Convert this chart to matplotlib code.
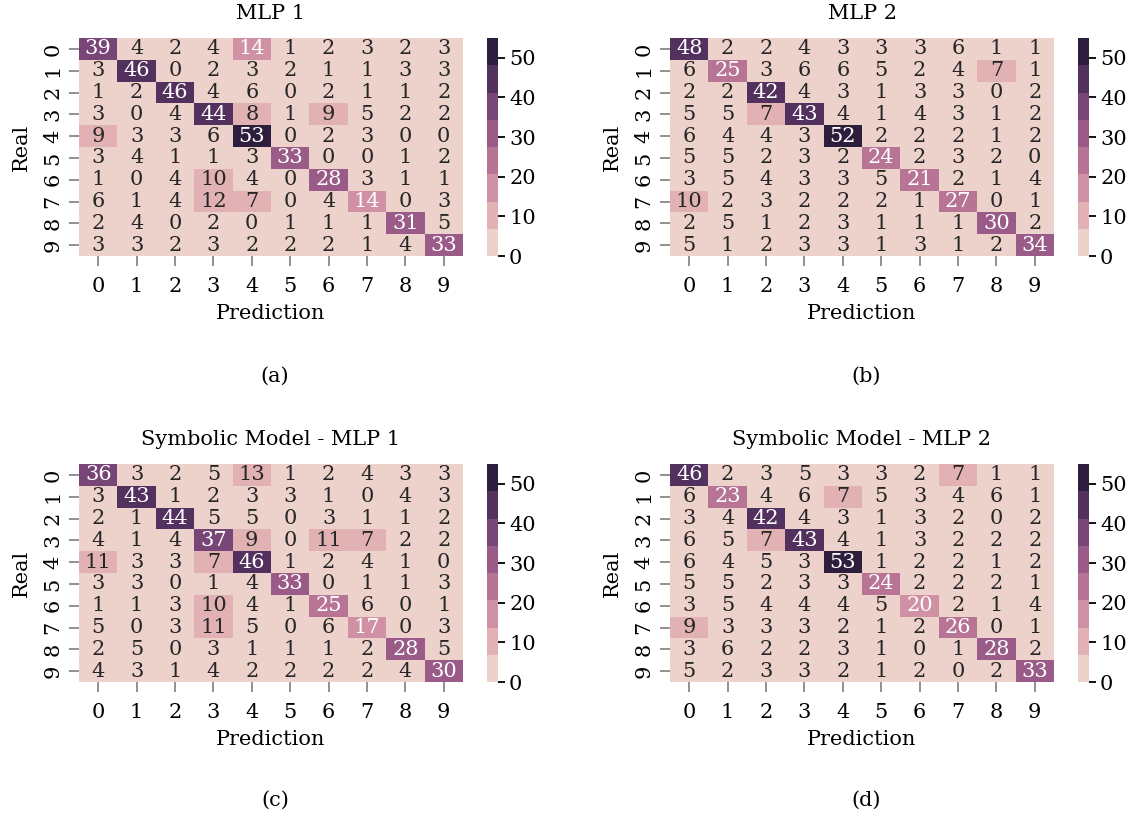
import numpy as np
import matplotlib
matplotlib.use("Agg")
import matplotlib.pyplot as plt
import seaborn as sns
from matplotlib.colors import ListedColormap

labels = [str(i) for i in range(10)]

mlp1 = [
    [39, 4, 2, 4, 14, 1, 2, 3, 2, 3],
    [3, 46, 0, 2, 3, 2, 1, 1, 3, 3],
    [1, 2, 46, 4, 6, 0, 2, 1, 1, 2],
    [3, 0, 4, 44, 8, 1, 9, 5, 2, 2],
    [9, 3, 3, 6, 53, 0, 2, 3, 0, 0],
    [3, 4, 1, 1, 3, 33, 0, 0, 1, 2],
    [1, 0, 4, 10, 4, 0, 28, 3, 1, 1],
    [6, 1, 4, 12, 7, 0, 4, 14, 0, 3],
    [2, 4, 0, 2, 0, 1, 1, 1, 31, 5],
    [3, 3, 2, 3, 2, 2, 2, 1, 4, 33],
]
mlp2 = [
    [48, 2, 2, 4, 3, 3, 3, 6, 1, 1],
    [6, 25, 3, 6, 6, 5, 2, 4, 7, 1],
    [2, 2, 42, 4, 3, 1, 3, 3, 0, 2],
    [5, 5, 7, 43, 4, 1, 4, 3, 1, 2],
    [6, 4, 4, 3, 52, 2, 2, 2, 1, 2],
    [5, 5, 2, 3, 2, 24, 2, 3, 2, 0],
    [3, 5, 4, 3, 3, 5, 21, 2, 1, 4],
    [10, 2, 3, 2, 2, 2, 1, 27, 0, 1],
    [2, 5, 1, 2, 3, 1, 1, 1, 30, 2],
    [5, 1, 2, 3, 3, 1, 3, 1, 2, 34],
]
sym_mlp1 = [
    [36, 3, 2, 5, 13, 1, 2, 4, 3, 3],
    [3, 43, 1, 2, 3, 3, 1, 0, 4, 3],
    [2, 1, 44, 5, 5, 0, 3, 1, 1, 2],
    [4, 1, 4, 37, 9, 0, 11, 7, 2, 2],
    [11, 3, 3, 7, 46, 1, 2, 4, 1, 0],
    [3, 3, 0, 1, 4, 33, 0, 1, 1, 3],
    [1, 1, 3, 10, 4, 1, 25, 6, 0, 1],
    [5, 0, 3, 11, 5, 0, 6, 17, 0, 3],
    [2, 5, 0, 3, 1, 1, 1, 2, 28, 5],
    [4, 3, 1, 4, 2, 2, 2, 2, 4, 30],
]
sym_mlp2 = [
    [46, 2, 3, 5, 3, 3, 2, 7, 1, 1],
    [6, 23, 4, 6, 7, 5, 3, 4, 6, 1],
    [3, 4, 42, 4, 3, 1, 3, 2, 0, 2],
    [6, 5, 7, 43, 4, 1, 3, 2, 2, 2],
    [6, 4, 5, 3, 53, 1, 2, 2, 1, 2],
    [5, 5, 2, 3, 3, 24, 2, 2, 2, 1],
    [3, 5, 4, 4, 4, 5, 20, 2, 1, 4],
    [9, 3, 3, 3, 2, 1, 2, 26, 0, 1],
    [3, 6, 2, 2, 3, 1, 0, 1, 28, 2],
    [5, 2, 3, 3, 2, 1, 2, 0, 2, 33],
]

titles = ["MLP 1", "MLP 2", "Symbolic Model - MLP 1", "Symbolic Model - MLP 2"]
captions = ["(a)", "(b)", "(c)", "(d)"]
matrices = [mlp1, mlp2, sym_mlp1, sym_mlp2]

plt.rcParams['font.family'] = ['DejaVu Serif']
FS = 15
plt.rcParams['font.size'] = FS

W, H = 1136, 817
fig = plt.figure(figsize=(W / 100, H / 100), dpi=100)
cmap = ListedColormap(sns.cubehelix_palette(8))

hm_lefts = [79, 670, 79, 670]
cb_lefts = [487, 1078, 487, 1078]
tops = [38, 38, 464, 464]
hm_w, hm_h, cb_w = 384, 218, 11
cap_pos = [(275, 376), (866, 376), (275, 800), (866, 800)]

for i in range(4):
    ax = fig.add_axes([hm_lefts[i] / W, 1 - (tops[i] + hm_h) / H, hm_w / W, hm_h / H])
    cax = fig.add_axes([cb_lefts[i] / W, 1 - (tops[i] + hm_h) / H, cb_w / W, hm_h / H])
    data = np.array(matrices[i])
    sns.heatmap(data, ax=ax, cbar_ax=cax, cmap=cmap, vmin=0, vmax=55,
                annot=True, fmt="d", annot_kws={"fontsize": FS},
                xticklabels=labels, yticklabels=labels,
                cbar_kws={"ticks": [0, 10, 20, 30, 40, 50]})
    ax.set_title(titles[i], fontsize=FS, pad=14)
    ax.set_xlabel("Prediction", fontsize=FS, labelpad=6)
    ax.set_ylabel("Real", fontsize=FS, labelpad=9)
    ax.tick_params(axis='both', length=7, width=1.3, color='#888888', labelsize=FS)
    ax.tick_params(axis='x', pad=8)
    ax.tick_params(axis='y', pad=5)
    for lab in ax.get_yticklabels():
        lab.set_rotation(90)
        lab.set_va('center')
    for lab in ax.get_xticklabels():
        lab.set_rotation(0)
    cax.tick_params(length=5, width=1.3, color='black', labelsize=FS, pad=3)
    fig.text(cap_pos[i][0] / W, 1 - cap_pos[i][1] / H, captions[i], ha='center', va='center', fontsize=FS)

fig.savefig("out.png", dpi=100)
